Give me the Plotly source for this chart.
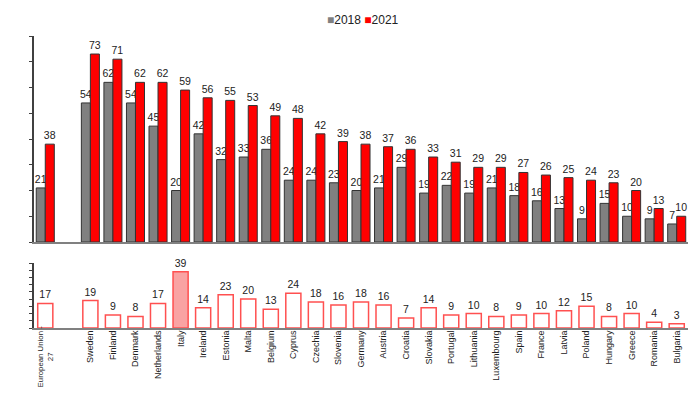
import plotly.graph_objects as go

categories = ["European Union - 27", " ", "Sweden", "Finland", "Denmark", "Netherlands", "Italy",
              "Ireland", "Estonia", "Malta", "Belgium", "Cyprus", "Czechia", "Slovenia",
              "Germany", "Austria", "Croatia", "Slovakia", "Portugal", "Lithuania",
              "Luxembourg", "Spain", "France", "Latvia", "Poland", "Hungary", "Greece",
              "Romania", "Bulgaria"]
eu_label = "European Union -<br>27"
tick_labels = [""] + categories[1:]
v2018 = [21, None, 54, 62, 54, 45, 20, 42, 32, 33, 36, 24, 24, 23, 20, 21, 29, 19, 22, 19,
         21, 18, 16, 13, 9, 15, 10, 9, 7]
v2021 = [38, None, 73, 71, 62, 62, 59, 56, 55, 53, 49, 48, 42, 39, 38, 37, 36, 33, 31, 29,
         29, 27, 26, 25, 24, 23, 20, 13, 10]
diff = [17, None, 19, 9, 8, 17, 39, 14, 23, 20, 13, 24, 18, 16, 18, 16, 7, 14, 9, 10,
        8, 9, 10, 12, 15, 8, 10, 4, 3]
series_names = ["2018", "2021"]
series_colors = ["#808080", "#ff0000"]

font = "Arial, Liberation Sans, sans-serif"

def lbl(vals):
    return [("" if v is None else str(v)) for v in vals]

fig = go.Figure()
for name, vals, col in zip(series_names, [v2018, v2021], series_colors):
    fig.add_trace(go.Bar(x=categories, y=vals, name=name, xaxis="x", yaxis="y",
                         showlegend=False,
                         marker=dict(color=col, line=dict(color="#333333", width=1)),
                         text=lbl(vals), textposition="outside", cliponaxis=False,
                         constraintext="none",
                         textfont=dict(family=font, size=10.5, color="#222222")))

fills = ["#f9a3a3" if c == "Italy" else "#ffffff" for c in categories]
fig.add_trace(go.Bar(x=categories, y=diff, name="diff", xaxis="x2", yaxis="y2",
                     showlegend=False, width=0.67,
                     marker=dict(color=fills, line=dict(color="#ff5050", width=1.5)),
                     text=lbl(diff), textposition="outside", cliponaxis=False,
                     constraintext="none",
                     textfont=dict(family=font, size=10.5, color="#222222")))

legend_text = " ".join(
    f'<span style="color:{c}">■</span>{n}' for n, c in zip(series_names, series_colors))
fig.add_annotation(xref="paper", yref="paper", x=0.503, y=1.055, xanchor="center",
                   yanchor="middle", showarrow=False, text=legend_text,
                   font=dict(family=font, size=12, color="#222222"))

fig.add_annotation(xref="x2", yref="y2 domain", x=categories[0], y=0.06,
                   xanchor="center", yanchor="top", showarrow=False, textangle=-90,
                   align="center", text=eu_label, borderpad=0,
                   font=dict(family=font, size=7.8, color="#222222"))

axis_common = dict(showgrid=False, zeroline=False, showline=True, linecolor="#404040",
                   linewidth=1.5, ticks="outside", ticklen=3, tickcolor="#404040",
                   showticklabels=False)

fig.update_layout(
    width=700, height=393,
    margin=dict(l=26, r=20, t=28, b=73),
    paper_bgcolor="white", plot_bgcolor="white",
    barmode="group", bargap=0.2, bargroupgap=0,
    font=dict(family=font, size=11, color="#222222"),
    showlegend=False,
    xaxis=dict(domain=[0, 1], anchor="y", range=[-0.5, 28.5], showticklabels=False,
               showline=True, linecolor="#808080", linewidth=2, ticks="",
               showgrid=False, zeroline=False),
    yaxis=dict(domain=[0.2945, 1], anchor="x", range=[0, 80], dtick=10, **axis_common),
    xaxis2=dict(domain=[0, 1], anchor="y2", range=[-0.5, 28.5], showticklabels=True,
                tickmode="array", tickvals=categories, ticktext=tick_labels,
                tickangle=-90, automargin=False, ticklabelstandoff=-3,
                tickfont=dict(family=font, size=9, color="#222222"),
                showline=True, linecolor="#808080", linewidth=2, ticks="",
                showgrid=False, zeroline=False),
    yaxis2=dict(domain=[0, 0.2226], anchor="x2", range=[0, 45], dtick=5, **axis_common),
)

fig.write_html("out.html")
